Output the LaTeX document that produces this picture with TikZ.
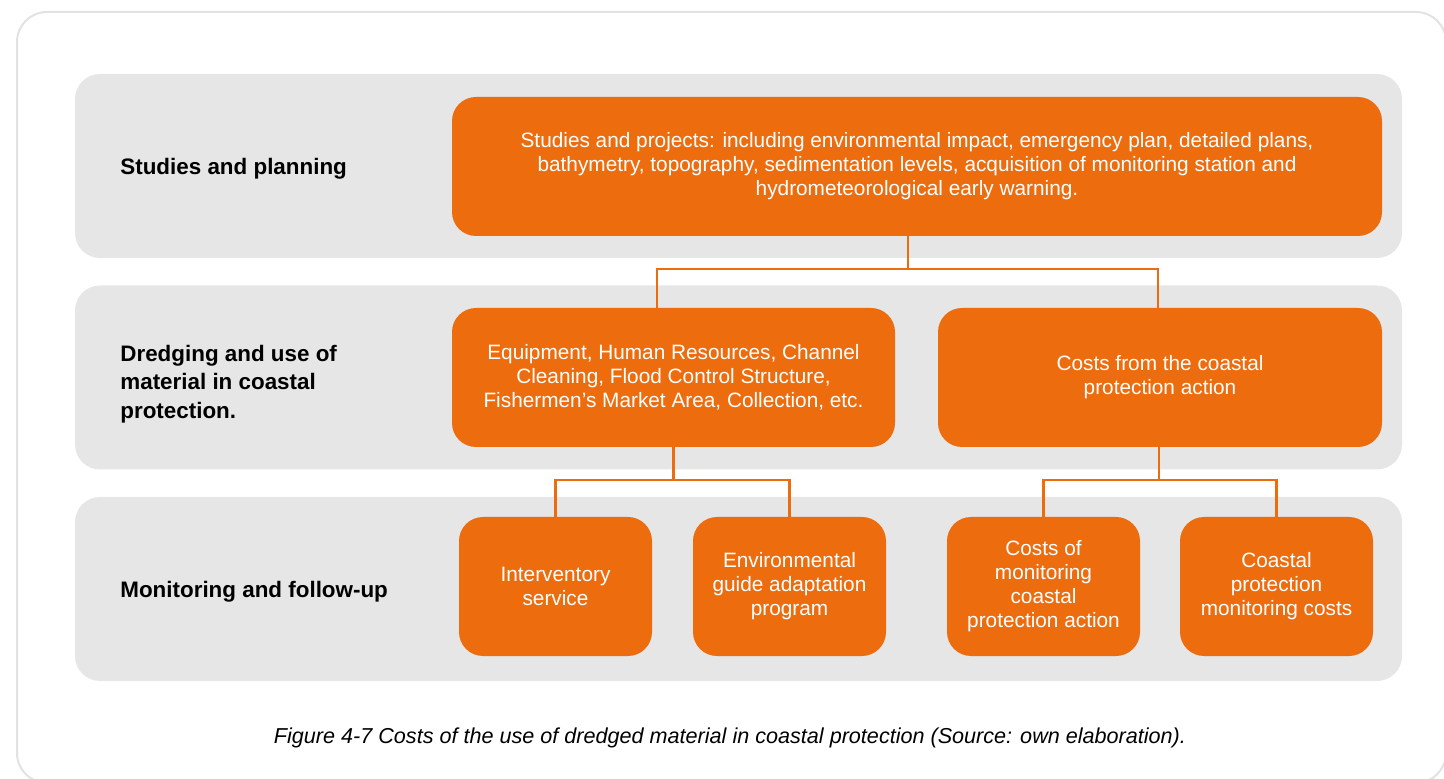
\documentclass[tikz,border=0pt]{standalone}
\usepackage{fontspec}
\setmainfont{Liberation Sans}
\usetikzlibrary{positioning}

\definecolor{dredgeorange}{HTML}{EC6C0E}
\definecolor{bandgray}{HTML}{E6E6E6}
\definecolor{framegray}{HTML}{E2E2E2}

\begin{document}
\begin{tikzpicture}[x=0.5pt,y=-0.5pt,
  band/.style={fill=bandgray,rounded corners=12.5pt,minimum width=663.5pt,minimum height=92pt,inner sep=0pt},
  costbox/.style={fill=dredgeorange,text=white,rounded corners=12pt,minimum height=69.5pt,inner sep=0pt,align=center,font=\fontsize{10.4}{12}\selectfont},
  stage/.style={anchor=west,align=left,inner sep=0pt,font=\fontsize{11.2}{14.25}\selectfont\bfseries},
  link/.style={draw=dredgeorange,line width=1.2pt}]
\useasboundingbox (0,0) rectangle (1444,779);
\clip (0,0) rectangle (1444,779);
% outer frame
\draw[framegray,line width=1pt,rounded corners=15pt] (17,12) rectangle (1446,783);
% the three stages
\node[band] (plan) at (738.5,166) {};
\node[band] (dredge) at (738.5,377.5) {};
\node[band] (monitor) at (738.5,589) {};
\node[stage] (planlbl) at (120,169) {Studies and planning};
\node[stage] (dredgelbl) at (120,384) {Dredging and use of\\material in coastal\\protection.};
\node[stage] (monitorlbl) at (120,592) {Monitoring and follow-up};
% cost items
\node[costbox,minimum width=465pt] (studies) at (917,166.5) {Studies and projects: including environmental impact, emergency plan, detailed plans,\\bathymetry, topography, sedimentation levels, acquisition of monitoring station and\\hydrometeorological early warning.};
\node[costbox,minimum width=221.5pt] (equip) at (673.5,377.5) {Equipment, Human Resources, Channel\\Cleaning, Flood Control Structure,\\Fishermen’s Market Area, Collection, etc.};
\node[costbox,minimum width=222pt] (action) at (1160,377.5) {Costs from the coastal\\protection action};
\node[costbox,minimum width=96.5pt] (interv) at (555.5,586.5) {Interventory\\service};
\node[costbox,minimum width=96.5pt] (guide) at (789.5,586.5) {Environmental\\guide adaptation\\program};
\node[costbox,minimum width=96.5pt] (costmon) at (1043.5,586.5) {Costs of\\monitoring\\coastal\\protection action};
\node[costbox,minimum width=96.5pt] (coastmon) at (1276.5,586.5) {Coastal\\protection\\monitoring costs};
% connectors
\coordinate (split1) at (908,269);
\coordinate (split2) at (673.5,480);
\coordinate (split3) at (1159,480);
\draw[link] (studies.south -| split1) -- (split1);
\draw[link] (split1) -| ([xshift=-8.25pt]equip.north);
\draw[link] (split1) -| ([xshift=-1pt]action.north);
\draw[link] (equip.south) -- (split2);
\draw[link] (split2) -| (interv.north);
\draw[link] (split2) -| (guide.north);
\draw[link] (action.south -| split3) -- (split3);
\draw[link] (split3) -| (costmon.north);
\draw[link] (split3) -| (coastmon.north);
% caption
\node[font=\fontsize{10.8}{13}\selectfont\itshape] (caption) at (730,738) {Figure 4-7 Costs of the use of dredged material in coastal protection (Source: own elaboration).};
\end{tikzpicture}
\end{document}
